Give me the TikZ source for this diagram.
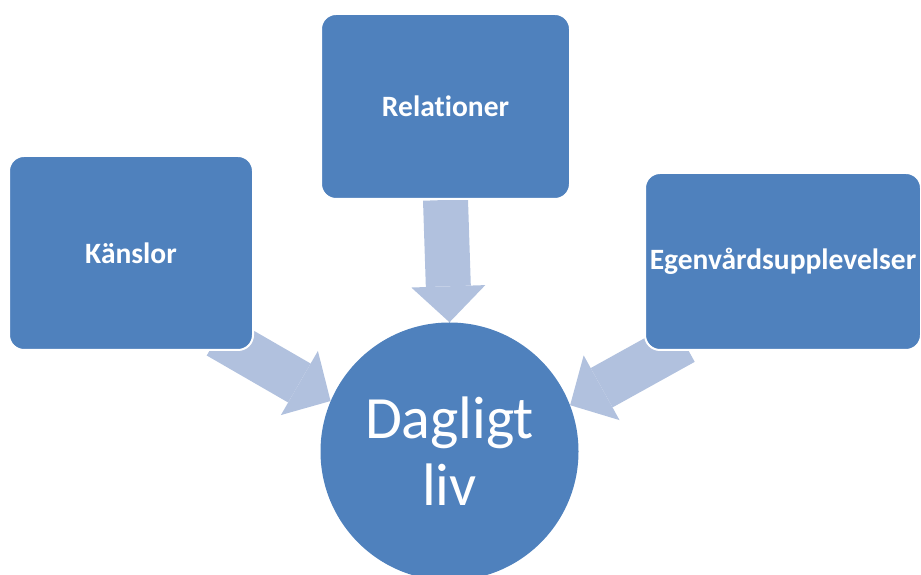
\documentclass[tikz,border=0pt]{standalone}
\usepackage{fontspec}
\setmainfont[Ligatures=NoCommon]{Carlito}
\usetikzlibrary{arrows.meta,calc,backgrounds}
\definecolor{boxblue}{HTML}{4F81BD}
\definecolor{flowblue}{HTML}{B1C1DE}
\tikzset{
  theme/.style={rectangle, rounded corners=15pt, fill=boxblue, draw=white, line width=2pt, text=white, font=\fontsize{29.5}{35}\selectfont\bfseries},
  flow/.style={flowblue, line width=45pt, -{Triangle[length=36pt,width=74pt,line width=0pt]}}
}
\begin{document}
\begin{tikzpicture}[x=1pt,y=1pt]
\useasboundingbox (0,0) rectangle (921,575);
\clip (0,0) rectangle (921,575);
\node[theme, minimum width=244pt, minimum height=194pt] (kanslor) at (131,322) {Känslor};
\node[theme, minimum width=249pt, minimum height=185pt] (relationer) at (445.5,468.5) {Relationer};
\node[theme, minimum width=276pt, minimum height=177pt, inner sep=0pt] (egenvard) at (783,313.5) {Egenvårdsupplevelser};
\node[circle, fill=boxblue, text=white, minimum size=258pt, align=center, font=\fontsize{60}{67}\selectfont] (dagligt) at (449.5,123.5) {Dagligt\\liv};
\begin{pgfonlayer}{background}
\draw[flow] (relationer.south) -- (dagligt.north);
\draw[flow] ($(dagligt.157)+(150:130)$) -- (dagligt.157);
\draw[flow] ($(dagligt.21)+(29:130)$) -- (dagligt.21);
\end{pgfonlayer}
\end{tikzpicture}
\end{document}
